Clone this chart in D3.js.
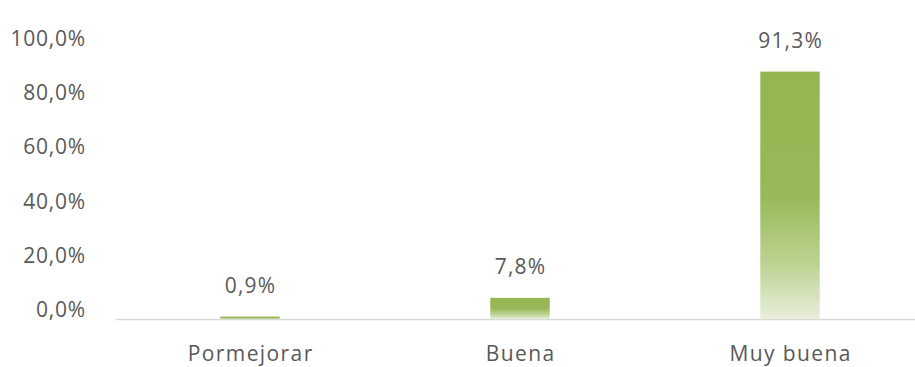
<!DOCTYPE html>
<html>
<head>
<meta charset="utf-8">
<script src="https://cdn.jsdelivr.net/npm/d3@7"></script>
<style>
  html, body { margin: 0; padding: 0; background: #ffffff; }
  svg { display: block; }
  text { font-family: "Open Sans", "DejaVu Sans", sans-serif; fill: #595959; }
</style>
</head>
<body>
<svg id="chart" width="915" height="367"></svg>
<script>
// Chart data
const categories = ["Pormejorar", "Buena", "Muy buena"];
const values = [0.9, 7.8, 91.3];
const valueLabels = ["0,9%", "7,8%", "91,3%"];
const tickValues = [0, 20, 40, 60, 80, 100];
const tickLabels = ["0,0%", "20,0%", "40,0%", "60,0%", "80,0%", "100,0%"];

const svg = d3.select("#chart");

const x = d3.scaleBand().domain(categories).range([115, 925]).padding(0);
const y = d3.scaleLinear().domain([0, 100]).range([319, 48]);

// Vertical gradient for the bars: solid green at the top fading towards the base
const defs = svg.append("defs");
const grad = defs.append("linearGradient")
  .attr("id", "barFill")
  .attr("x1", 0).attr("y1", 0).attr("x2", 0).attr("y2", 1);
[[0, "#93b652"], [0.5, "#97b957"], [0.78, "#bcd393"], [1, "#e8efdb"]].forEach(([o, c]) =>
  grad.append("stop").attr("offset", o).attr("stop-color", c));

// Y tick labels (no axis line, no gridlines)
const yAxis = d3.axisLeft(y)
  .tickValues(tickValues)
  .tickFormat((d, i) => tickLabels[i])
  .tickSize(0)
  .tickPadding(0);
const gy = svg.append("g").attr("transform", "translate(86,0)").call(yAxis);
gy.select(".domain").remove();
gy.selectAll("text")
  .attr("dy", "-0.12em")
  .style("font-size", "21px")
  .style("letter-spacing", "0.8px")
  .style("font-family", "'Open Sans', sans-serif")
  .attr("fill", "#595959");

// Category axis along the baseline
const xAxis = d3.axisBottom(x).tickSize(0).tickPadding(0);
const gx = svg.append("g").attr("transform", `translate(0,${y(0)})`).call(xAxis);
gx.select(".domain").attr("stroke", "#d9d9d9").attr("stroke-width", 1.5);
gx.selectAll("text")
  .attr("y", 0)
  .attr("dy", 42)
  .attr("dx", 0.7)
  .style("font-size", "21px")
  .style("letter-spacing", "1.4px")
  .style("font-family", "'Open Sans', sans-serif")
  .attr("fill", "#595959");

// Bars
const barW = x.bandwidth() * 0.22;
svg.append("g").selectAll("rect")
  .data(values)
  .join("rect")
  .attr("x", (d, i) => x(categories[i]) + (x.bandwidth() - barW) / 2)
  .attr("y", d => y(d))
  .attr("width", barW)
  .attr("height", d => y(0) - y(d))
  .attr("fill", "url(#barFill)");

// Value labels above each bar
svg.append("g").selectAll("text")
  .data(values)
  .join("text")
  .attr("x", (d, i) => x(categories[i]) + x.bandwidth() / 2 + 0.6)
  .attr("y", d => y(d) - 24)
  .attr("text-anchor", "middle")
  .style("font-size", "21px")
  .style("letter-spacing", "1.2px")
  .text((d, i) => valueLabels[i]);
</script>
</body>
</html>
